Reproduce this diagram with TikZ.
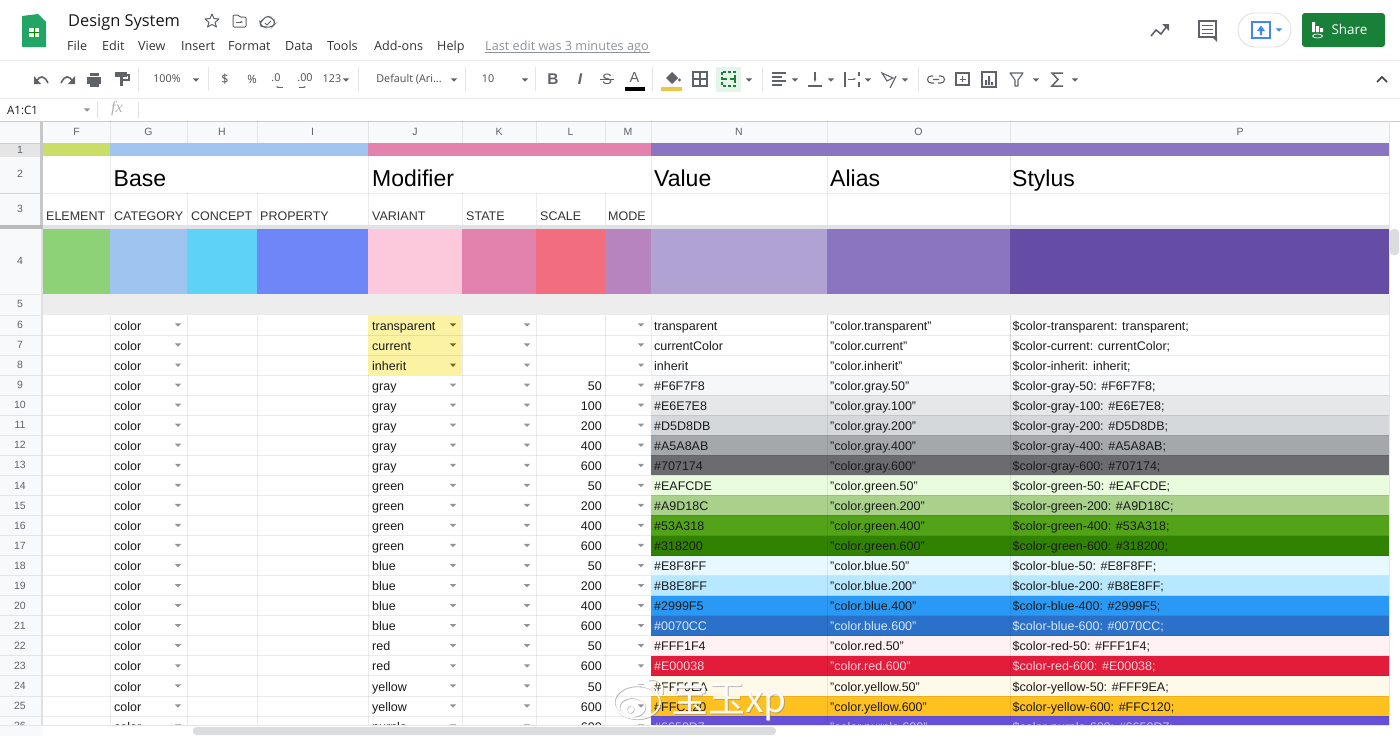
\documentclass[tikz,border=0pt]{standalone}
\usepackage{xcolor}
\usepackage{fontspec}
\setmainfont{Liberation Sans}
\newfontfamily\uifont{Open Sans}
\newfontfamily\fxfont{Liberation Serif}
\newfontfamily\cjkfont{Noto Sans CJK SC}
\usetikzlibrary{arrows.meta}
\usetikzlibrary{positioning}
\newcommand{\cellfont}{\fontsize{12.5}{15}\selectfont}
\newcommand{\bigfont}{\fontsize{23}{27}\selectfont}
\newcommand{\headfont}{\fontsize{10.5}{12}\selectfont}
\newcommand{\menufont}{\uifont\fontsize{12.6}{15}\selectfont}
\newcommand{\toolfont}{\uifont\fontsize{10.8}{13}\selectfont}
\definecolor{iconcol}{HTML}{5F6368}
\definecolor{headfill}{HTML}{F8F9FA}
\definecolor{dropcol}{HTML}{8F9499}
\definecolor{inkcol}{HTML}{1A1A1A}
\definecolor{palebl}{HTML}{D8E8F8}
\definecolor{palerd}{HTML}{F9D3DA}
\definecolor{palepr}{HTML}{C9C2F0}
\definecolor{sharecol}{HTML}{188038}
\definecolor{presentcol}{HTML}{4285F4}
\tikzset{
cell/.style = { anchor = base west, inner sep = 0pt, font = \cellfont, text = inkcol },
cellr/.style = { anchor = base east, inner sep = 0pt, font = \cellfont, text = inkcol },
head/.style = { inner sep = 0pt, font = \headfont, text = iconcol },
menuitem/.style = { anchor = base west, inner sep = 0pt, font = \menufont, text = black!80 },
tool/.style = { inner sep = 0pt, font = \toolfont, text = black!70 },
icon/.style = { draw = iconcol, line width = 1.1pt },
gridline/.style = { draw = black, opacity = 0.08, line width = 0.8pt },
markshade/.style = { draw = black!60, opacity = 0.45 },
fillhex/.code = { \definecolor{tmpfill}{HTML}{#1}\tikzset{fill = tmpfill} },
pics/drop arrow/.style = {
        code = {
        \fill[#1] (-3.2, -1.6) -- (3.2, -1.6) -- (0, 1.7) -- cycle;
        }
    },
}
\begin{document}
\begin{tikzpicture}[x=1pt, y=-1pt]
  \useasboundingbox (0,0) rectangle (1400,736);
  \fill[white] (0,0) rectangle (1400,736);

  % title bar
  \fill[fillhex=23A566] (22,16) -- (38,14) -- (46,22) -- (46,47) -- (22,47) -- cycle;
  \fill[white] (29,28) rectangle (39,37);
  \draw[draw=green!55!black, line width=1pt] (34,28) -- (34,37) (29,32.5) -- (39,32.5);
  \node[anchor=base west, inner sep=0pt, font=\uifont\fontsize{16.4}{19}\selectfont, text=black!90] (title) at (68,26) {Design System};
  \draw[iconcol, line width=1pt, line join=round] (212,14) -- (214,18.5) -- (219,19) -- (215,22.5) -- (216.5,27) -- (212,24.5) -- (207.5,27) -- (209,22.5) -- (205,19) -- (210,18.5) -- cycle;
  \draw[iconcol, line width=1pt, rounded corners=1pt] (233,15) -- (238,15) -- (240,17) -- (246,17) -- (246,27) -- (233,27) -- cycle;
  \draw[iconcol, line width=1pt, -{Stealth[length=3pt]}] (236,22) -- (243,22);
  \draw[iconcol, line width=1pt, rounded corners=3pt] (264,27) -- (261,26) -- (260,22) -- (263,20) -- (266,16) -- (270,17) -- (274,20) -- (275,24) -- (272,27) -- cycle;
  \draw[iconcol, line width=0.8pt] (265,23) -- (267,25) -- (271,21);
  \foreach \mx/\mtext in {67/File, 102/Edit, 138/View, 181/Insert, 228/Format, 285/Data, 327/Tools, 374/Add-ons, 437/Help}
    \node[menuitem] (menu\mtext) at (\mx,50) {\mtext};
  \node[menuitem, text=dropcol, font=\uifont\fontsize{12.7}{14}\selectfont] (lastedit) at (485,50) {Last edit was 3 minutes ago};
  \draw[dropcol, line width=0.7pt] (485,52.5) -- (650,52.5);

  % top right buttons
  \draw[iconcol, line width=1.6pt] (1151,36) -- (1156,30) -- (1161,34) -- (1167,26);
  \fill[iconcol] (1162,24) -- (1169,24) -- (1169,31) -- cycle;
  \draw[iconcol, line width=1.6pt] (1199,21) rectangle (1216,37);
  \fill[iconcol] (1212,37) -- (1217,37) -- (1217,42) -- cycle;
  \draw[iconcol, line width=1pt] (1202,25) -- (1213,25) (1202,29) -- (1213,29) (1202,33) -- (1213,33);
  \draw[black!12, line width=0.9pt, rounded corners=17pt] (1238,13) rectangle (1291,47);
  \draw[presentcol, line width=1.2pt] (1252,22) rectangle (1270,38);
  \fill[presentcol] (1261,25.5) -- (1265,31) -- (1262.2,31) -- (1262.2,35) -- (1259.8,35) -- (1259.8,31) -- (1257,31) -- cycle;
  \pic at (1279,30) {drop arrow=presentcol};
  \fill[sharecol, rounded corners=3pt] (1302,13) rectangle (1385,47);
  \fill[white] (1312,22) rectangle (1315,32) (1316,26) rectangle (1319,32) (1320,28) rectangle (1323,32);
  \draw[white, line width=0.7pt] (1317.5,36) ellipse (5 and 2);
  \node[inner sep=0pt, font=\uifont\fontsize{13.5}{15}\selectfont, text=white] (share) at (1349.5,29.5) {Share};

  % tool bar
  \draw[black!8, line width=1pt] (0,60) -- (1400,60) (0,98) -- (1400,98);
  \foreach \dx in {138, 208, 358, 465, 535, 652, 762, 918}
    \draw[black!10, line width=0.8pt] (\dx,67) -- (\dx,91);
  \draw[icon, line width=1.6pt] (36,82) .. controls (40,75) and (44,75) .. (48,83);
  \fill[iconcol] (34,76) -- (34,84) -- (41,84) -- cycle;
  \draw[icon, line width=1.6pt] (73,82) .. controls (69,75) and (65,75) .. (61,83);
  \fill[iconcol] (75,76) -- (75,84) -- (68,84) -- cycle;
  \fill[iconcol] (87,77) rectangle (101,84);
  \fill[iconcol] (90,73) rectangle (99,76);
  \fill[iconcol] (90,83) rectangle (99,87);
  \fill[iconcol] (115,72) rectangle (127,77);
  \fill[iconcol] (120,77) rectangle (122.5,86);
  \draw[icon] (127,75) -- (129,75) -- (129,80) -- (121,80);
  \node[tool] (zoomval) at (167,79) {100\%};
  \node[tool, font=\uifont\fontsize{12.5}{14}\selectfont] (dollar) at (225,79) {\$};
  \node[tool, font=\uifont\fontsize{11.5}{14}\selectfont] (percent) at (252,79) {\%};
  \node[tool] (decless) at (276,78) {.0};
  \node[tool] (decmore) at (305,78) {.00};
  \draw[iconcol, line width=0.8pt, {Stealth[length=2.5pt]}-] (276,87) -- (283,87);
  \draw[iconcol, line width=0.8pt, -{Stealth[length=2.5pt]}] (299,87) -- (306,87);
  \node[tool] (numfmt) at (332,79) {123};
  \node[tool] (fontname) at (409,79) {Default (Ari...};
  \node[tool] (fontsz) at (488,79) {10};
  \foreach \ax in {196, 346, 454, 525, 749, 795, 831, 868, 905, 1036, 1075}
    \pic at (\ax,80) {drop arrow=iconcol};
  \node[tool, font=\bfseries\fontsize{15.5}{17}\selectfont, text=iconcol] (boldbtn) at (553,79) {B};
  \node[tool, font=\bfseries\itshape\fontsize{15.5}{17}\selectfont, text=iconcol] (italbtn) at (580,79) {I};
  \node[tool, font=\fontsize{15}{17}\selectfont, text=iconcol] (strikebtn) at (607,79) {S};
  \draw[iconcol, line width=1pt] (600,79) -- (614,79);
  \node[tool, font=\fontsize{14.5}{16}\selectfont, text=iconcol] (colorbtn) at (634.5,78) {A};
  \fill[black] (625,87) rectangle (645,91);
  \fill[iconcol] (672,72) -- (678,78) -- (672,84) -- (666,78) -- cycle;
  \fill[iconcol] (679.5,80) circle (1.6);
  \fill[fillhex=EAC64A] (661,87) rectangle (682,91);
  \draw[icon] (693,72) rectangle (707,86) (700,72) -- (700,86) (693,79) -- (707,79);
  \fill[fillhex=E6F4EA] (716,67) rectangle (741,92);
  \draw[sharecol, line width=1.3pt, dash pattern=on 3pt off 2pt] (722,72) rectangle (735,86);
  \draw[sharecol, line width=1.1pt] (721,79) -- (727,79) (730,79) -- (736,79);
  \draw[icon] (772,73) -- (786,73) (772,77) -- (782,77) (772,81) -- (786,81) (772,85) -- (782,85);
  \draw[icon, -{Stealth[length=3.5pt]}] (815,72) -- (815,82);
  \draw[icon] (808,86) -- (822,86);
  \draw[icon] (845,72) -- (845,87) (859,72) -- (859,76) (859,82) -- (859,87);
  \draw[icon, line width=1pt, -{Stealth[length=3pt]}] (848,79) -- (856,79);
  \draw[icon] (882,73) -- (893,78) -- (887,81) -- cycle (890,88) -- (896,76);
  \draw[icon] (933,76) -- (931,76) arc (270:90:3.5) -- (934,83) (939,76) -- (941,76) arc (-90:90:3.5) -- (938,83) (933,79.5) -- (939,79.5);
  \draw[icon] (956,73) rectangle (969,85);
  \draw[icon, line width=1pt] (962.5,76) -- (962.5,82) (959.5,79) -- (965.5,79);
  \draw[icon] (982,72) rectangle (996,87);
  \fill[iconcol] (985,80) rectangle (987,85) (988,76) rectangle (990,85) (991,82) rectangle (993,85);
  \draw[icon, line join=round] (1010,73) -- (1023,73) -- (1018,80) -- (1018,86) -- (1015,86) -- (1015,80) -- cycle;
  \draw[icon, line width=1.5pt, line join=miter] (1063,73) -- (1052,73) -- (1058,79.5) -- (1052,86) -- (1063,86);
  \draw[black!75, line width=1.5pt] (1377,82) -- (1382,77) -- (1387,82);

  % formula bar
  \node[cell, font=\uifont\fontsize{11.5}{14}\selectfont] (namebox) at (7,114) {A1:C1};
  \pic at (87,110) {drop arrow=dropcol};
  \draw[black!12, line width=0.8pt] (97,102) -- (97,118) (138,102) -- (138,118);
  \node[inner sep=0pt, text=black!30, font=\fxfont\itshape\fontsize{16}{18}\selectfont] (fxlabel) at (117,109) {fx};

  % sheet
  \begin{scope}
    \clip (0,120) rectangle (1400,725);
    \fill[headfill] (0,121) rectangle (1389,143);
    \fill[headfill] (0,143) rectangle (43,725);
    \fill[black!10] (0,143) rectangle (40,156);
    \draw[black!20, line width=1pt] (0,121) -- (1400,121) (0,143) -- (1389,143);
    \foreach \cname/\xa/\xb/\xm in {F/43/110/76.5, G/110/187/148.5, H/187/257/222, I/257/368/312.5, J/368/462/415, K/462/536/499, L/536/605/570.5, M/605/651/628, N/651/827/739, O/827/1010/918.5, P/1010/1389/1240} {
      \node[head] (col\cname) at (\xm,132) {\cname};
      \draw[gridline] (\xb,121) -- (\xb,143);
      \draw[gridline] (\xb,193) -- (\xb,725);
    }
    \foreach \hx in {110, 368, 651, 827, 1010, 1389}
      \draw[gridline] (\hx,156) -- (\hx,193);
    \draw[gridline] (0,193) -- (1389,193);
    \foreach \hy/\hn in {174/2, 209/3, 261/4, 304/5} \node[head] (rowh\hn) at (20,\hy) {\hn};
    \node[head] (rowh1) at (20,150) {1};
    \foreach \hy in {156, 193, 225, 294, 315} \draw[gridline] (0,\hy) -- (40,\hy);

    % coloured bands
    \fill[fillhex=C9DD67] (43,143) rectangle (110,156);
    \fill[fillhex=9FC5F0] (110,143) rectangle (368,156);
    \fill[fillhex=E382AD] (368,143) rectangle (651,156);
    \fill[fillhex=8A76C0] (651,143) rectangle (1389,156);
    \fill[fillhex=E1E2E6] (0,225) rectangle (1389,229);
    \fill[fillhex=B9BABC] (0,225) rectangle (43,229);
    \fill[fillhex=8DD277] (43,229) rectangle (110,294);
    \fill[fillhex=9EC5EF] (110,229) rectangle (187,294);
    \fill[fillhex=5ED2F7] (187,229) rectangle (257,294);
    \fill[fillhex=6F86F9] (257,229) rectangle (368,294);
    \fill[fillhex=FCC8DC] (368,229) rectangle (462,294);
    \fill[fillhex=E382AD] (462,229) rectangle (536,294);
    \fill[fillhex=F26E7E] (536,229) rectangle (605,294);
    \fill[fillhex=B884BF] (605,229) rectangle (651,294);
    \fill[fillhex=B0A3D3] (651,229) rectangle (827,294);
    \fill[fillhex=8A76C0] (827,229) rectangle (1010,294);
    \fill[fillhex=654CA4] (1010,229) rectangle (1389,294);
    \fill[fillhex=EDEDED] (43,294) rectangle (1389,315);
    \fill[fillhex=FBF3A3] (368,315) rectangle (462,375);

    % headings
    \node[cell, font=\bigfont, text=black] (hbase) at (113.5,186) {Base};
    \node[cell, font=\bigfont, text=black] (hmodifier) at (372,186) {Modifier};
    \node[cell, font=\bigfont, text=black] (hvalue) at (654,186) {Value};
    \node[cell, font=\bigfont, text=black] (halias) at (830,186) {Alias};
    \node[cell, font=\bigfont, text=black] (hstylus) at (1012,186) {Stylus};
    \foreach \lx/\ltext in {46/ELEMENT, 114/CATEGORY, 191/CONCEPT, 260/PROPERTY, 372/VARIANT, 466/STATE, 540/SCALE, 608/MODE}
      \node[cell, text=black!80] (lab\ltext) at (\lx,220.2) {\ltext};

    % data rows
    \foreach \rw/\hex in {9/F6F7F8, 10/E6E7E8, 11/D5D8DB, 12/A5A8AB, 13/6B6C70, 14/EAFCDE, 15/A9D18C, 16/53A318, 17/318200,
                          18/E8F8FF, 19/B8E8FF, 20/2999F5, 21/2B70C9, 22/FFF1F4, 23/E21C3A, 24/FFF9EA, 25/FFC120, 26/6650D7} {
      \pgfmathsetmacro\ya{325+(\rw-6)*20.05-10.03}
      \pgfmathsetmacro\yb{325+(\rw-6)*20.05+10.03}
      \fill[fillhex=\hex] (651,\ya) rectangle (1389,\yb);
    }
    \foreach \gx in {827, 1010} \draw[gridline] (\gx,315) -- (\gx,725);
    \foreach \rw in {6,...,26} {
      \pgfmathsetmacro\yc{325+(\rw-6)*20.05}
      \pgfmathsetmacro\yb{\yc+10}
      \pgfmathsetmacro\yt{\yc+5.1}
      \draw[gridline] (0,\yb) -- (1389,\yb);
      \node[head] (rowh\rw) at (20,\yc) {\rw};
      \node[cell] (cat\rw) at (114,\yt) {color};
      \pic at (178,\yc) {drop arrow=dropcol};
      \ifnum\rw>8
        \pic at (453,\yc) {drop arrow=dropcol};
      \else
        \pic at (453,\yc) {drop arrow=olive!70!black};
      \fi
      \pic at (527,\yc) {drop arrow=dropcol};
      \pic at (641,\yc) {drop arrow=dropcol};
    }
    \foreach \rw/\varname/\valname in {6/transparent/transparent, 7/current/currentColor, 8/inherit/inherit} {
      \pgfmathsetmacro\yt{325+(\rw-6)*20.05+5.1}
      \node[cell] (var\rw) at (372,\yt) {\varname};
      \node[cell] (val\rw) at (654,\yt) {\valname};
      \node[cell] (ali\rw) at (830,\yt) {"color.\varname"};
      \node[cell] (sty\rw) at (1012.5,\yt) {\$color-\varname: \valname;};
    }
    \foreach \rw/\varname/\scl/\hex/\inkname in {
      9/gray/50/F6F7F8/inkcol, 10/gray/100/E6E7E8/inkcol, 11/gray/200/D5D8DB/inkcol, 12/gray/400/A5A8AB/inkcol,
      13/gray/600/707174/inkcol, 14/green/50/EAFCDE/inkcol, 15/green/200/A9D18C/inkcol, 16/green/400/53A318/inkcol,
      17/green/600/318200/inkcol, 18/blue/50/E8F8FF/inkcol, 19/blue/200/B8E8FF/inkcol, 20/blue/400/2999F5/inkcol,
      21/blue/600/0070CC/palebl, 22/red/50/FFF1F4/inkcol, 23/red/600/E00038/palerd, 24/yellow/50/FFF9EA/inkcol,
      25/yellow/600/FFC120/inkcol, 26/purple/600/6650D7/palepr} {
      \pgfmathsetmacro\yt{325+(\rw-6)*20.05+5.1}
      \node[cell] (var\rw) at (372,\yt) {\varname};
      \node[cellr] (scl\rw) at (602,\yt) {\scl};
      \node[cell, text=\inkname] (val\rw) at (654,\yt) {\#\hex};
      \node[cell, text=\inkname] (ali\rw) at (830,\yt) {"color.\varname.\scl"};
      \node[cell, text=\inkname] (sty\rw) at (1012.5,\yt) {\$color-\varname-\scl: \#\hex;};
    }
    \fill[black!22] (40,121) rectangle (43,225);
    \fill[black!12] (41,229) rectangle (43,725);
  \end{scope}

  % scroll bars
  \draw[black!10, line width=0.9pt] (0,725) -- (1389,725) (1389,121) -- (1389,725);
  \fill[headfill] (0,725.5) rectangle (43,736);
  \fill[fillhex=DADCE0, rounded corners=3.5pt] (193,727) rectangle (776,735);
  \fill[fillhex=DADCE0, rounded corners=3.5pt] (1390,229) rectangle (1399,255);

  % watermark
  \begin{scope}
    \foreach \sx/\sy/\mk in {0.8/0.8/markshade, 0/0/white} {
      \begin{scope}[shift={(\sx,\sy)}]
        \draw[\mk, line width=1.6pt] (637,702) ellipse (23 and 16.5);
        \draw[\mk, line width=1.1pt] (632,707) ellipse (13 and 9.5);
        \draw[\mk, line width=1pt] (630,709) circle (3.5);
        \draw[\mk, line width=1.5pt] (648,680) .. controls (658,677) and (665,684) .. (662,694);
        \draw[\mk, line width=1.2pt] (650,687) .. controls (655,686) and (658,689) .. (657,693);
      \end{scope}
    }
    \node[inner sep=0pt, text=black!50, opacity=0.5, font=\cjkfont\fontsize{37}{40}\selectfont] (wmshade) at (730,702) {宝玉xp};
    \node[inner sep=0pt, text=white, opacity=0.95, font=\cjkfont\fontsize{37}{40}\selectfont] (wmark) at (729,701) {宝玉xp};
  \end{scope}
\end{tikzpicture}
\end{document}
